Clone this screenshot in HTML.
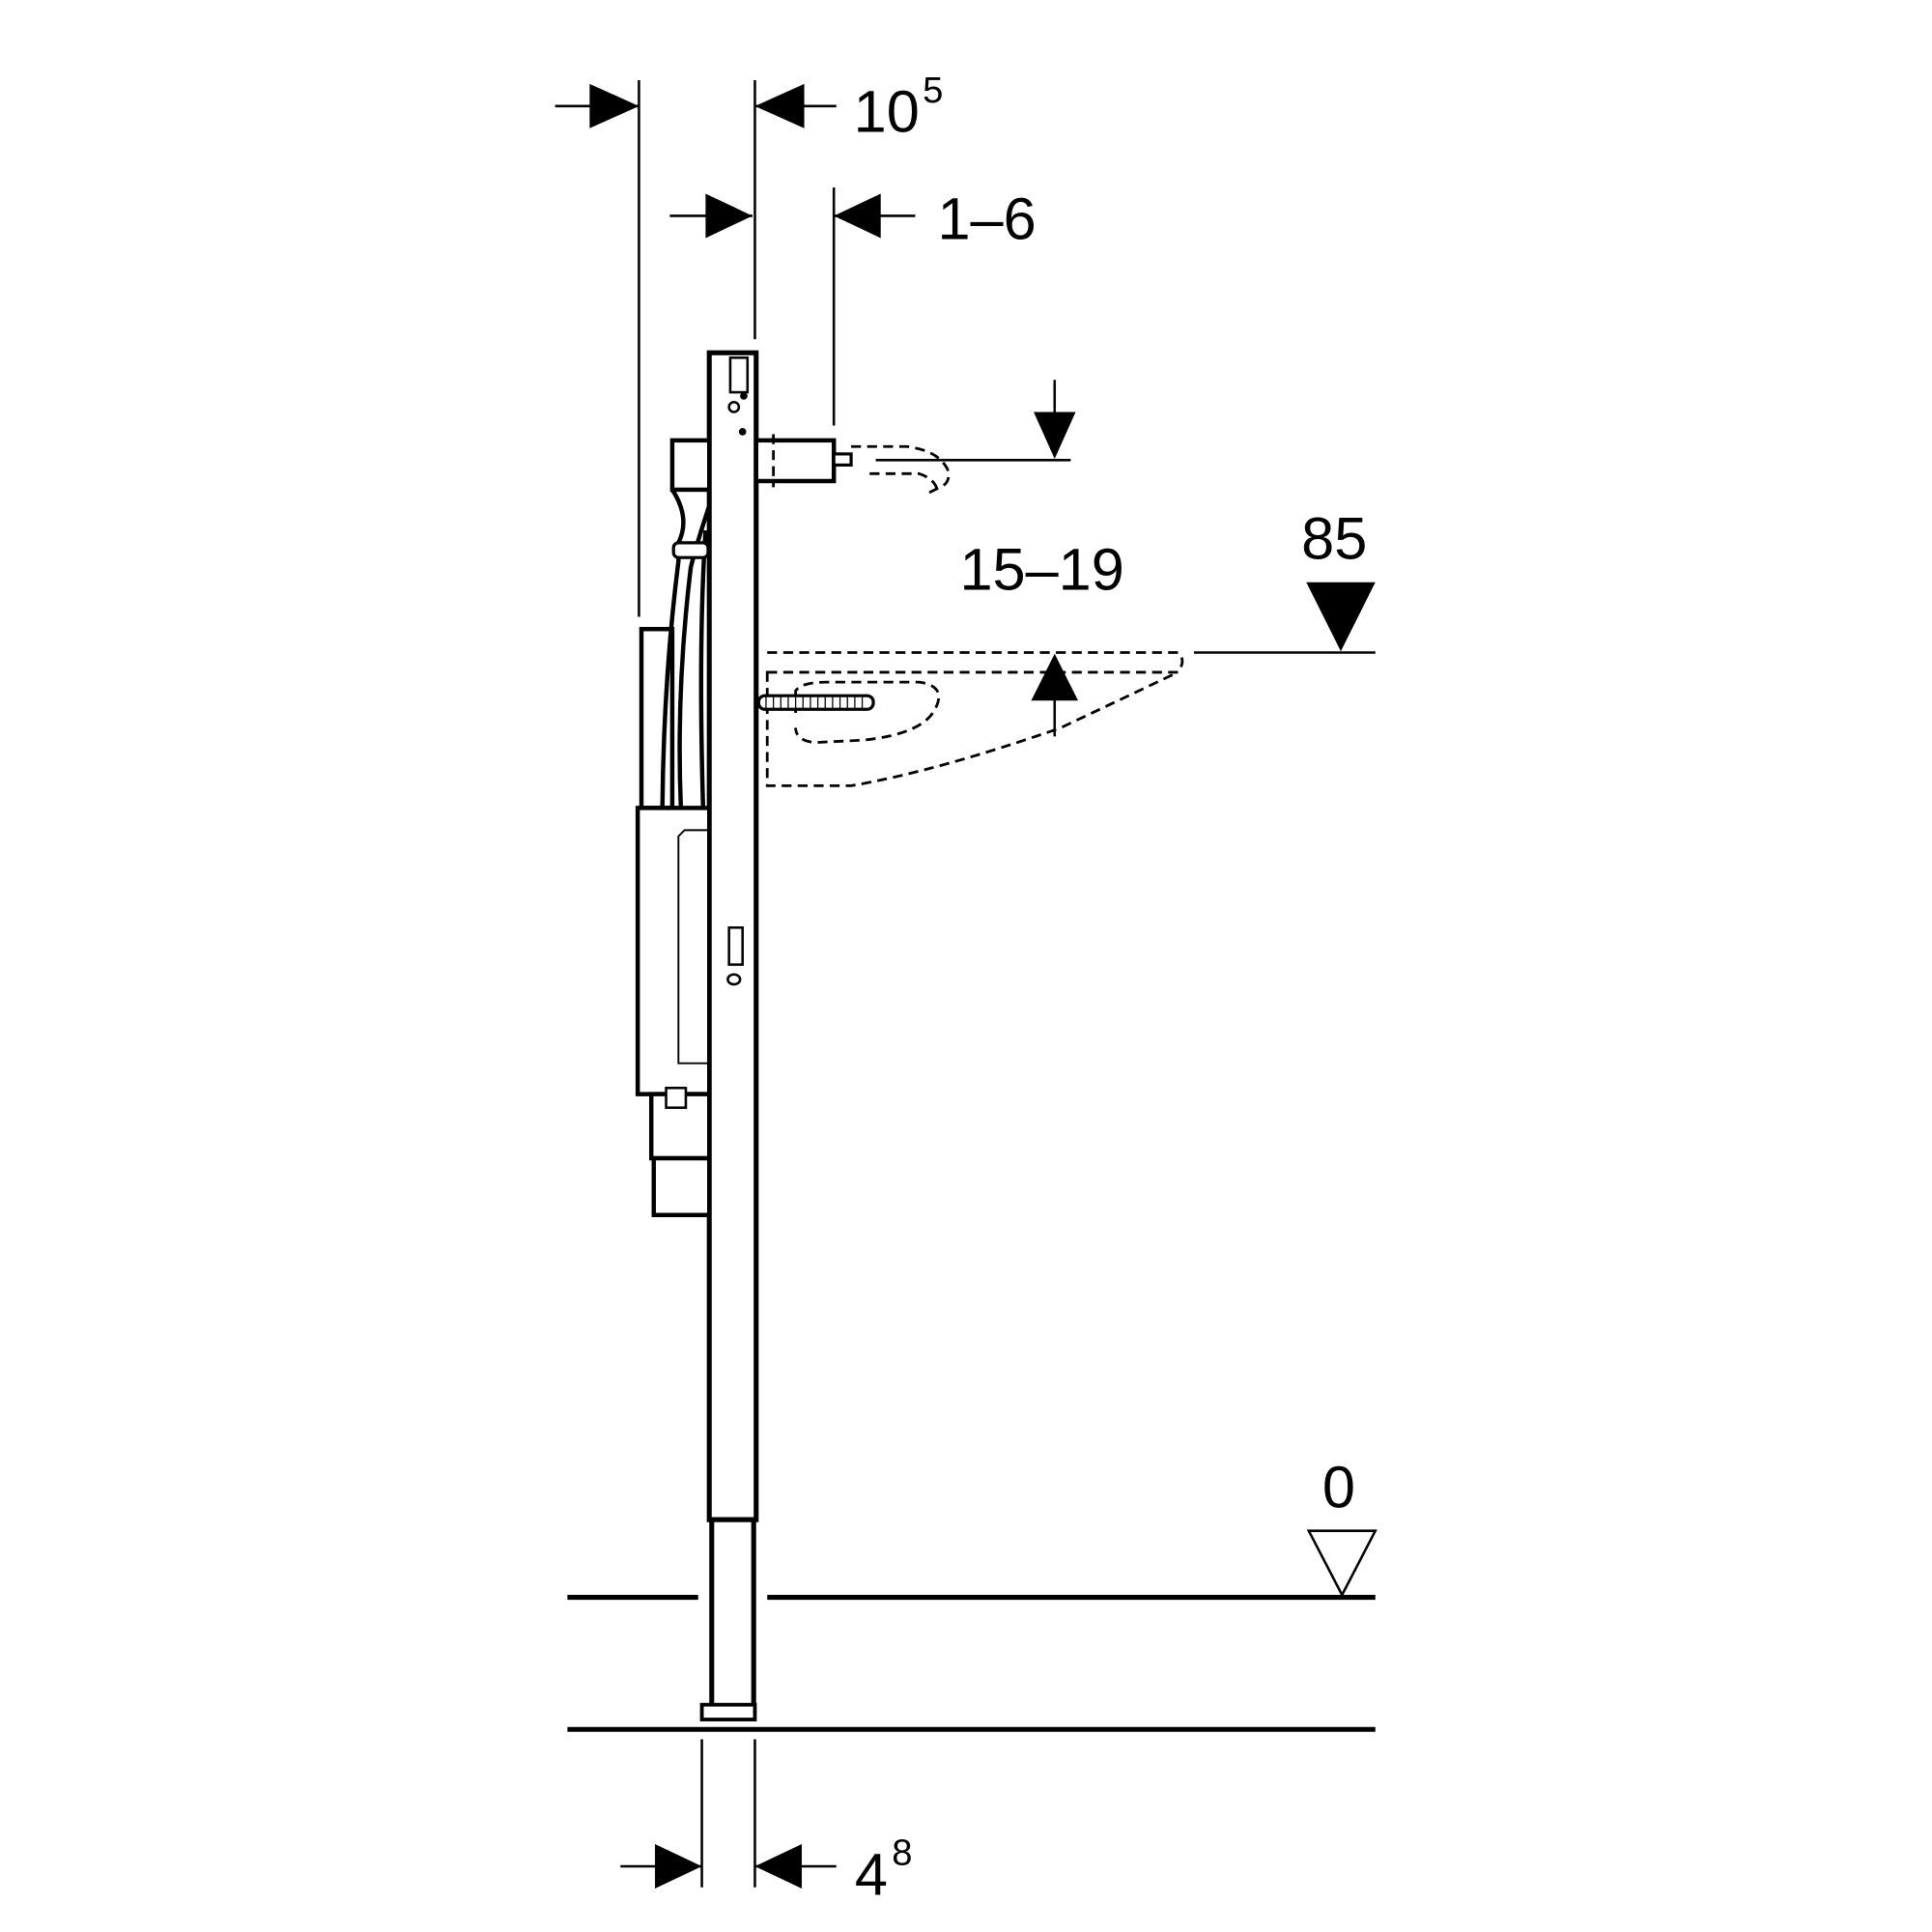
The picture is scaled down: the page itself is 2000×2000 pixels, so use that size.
<!DOCTYPE html>
<html><head><meta charset="utf-8"><style>
html,body{margin:0;padding:0;background:#fff;width:2000px;height:2000px;overflow:hidden}
svg{display:block}
text{font-family:"Liberation Sans",Arial,sans-serif;fill:#000}
</style></head><body>
<svg width="2000" height="2000" viewBox="0 0 1560 1560" xmlns="http://www.w3.org/2000/svg">
<g transform="scale(0.996)">
<g stroke="#000" fill="none" stroke-width="2">
<line x1="518" y1="65" x2="518" y2="500"/>
<line x1="612" y1="65" x2="612" y2="275"/>
<line x1="450" y1="86" x2="518" y2="86"/>
<line x1="612" y1="86" x2="678" y2="86"/>
<line x1="543" y1="175" x2="610" y2="175"/>
<line x1="676" y1="152" x2="676" y2="345"/>
<line x1="676" y1="175" x2="742" y2="175"/>
<line x1="855" y1="308" x2="855" y2="345"/>
<line x1="710" y1="373" x2="868" y2="373"/>
<line x1="855" y1="560" x2="855" y2="597"/>
<line x1="968" y1="529" x2="1115" y2="529"/>
<line x1="569" y1="1410" x2="569" y2="1530"/>
<line x1="612" y1="1410" x2="612" y2="1530"/>
<line x1="503" y1="1513" x2="569" y2="1513"/>
<line x1="612" y1="1513" x2="678" y2="1513"/>
</g>
<g fill="#000">
<polygon points="478,68 518,86 478,104"/>
<polygon points="652,68 612,86 652,104"/>
<polygon points="572,157 610,175 572,193"/>
<polygon points="714,157 676,175 714,193"/>
<polygon points="838,334 872,334 855,372"/>
<polygon points="836,568 874,568 855,530"/>
<polygon points="1059,472 1115,472 1087,528"/>
<polygon points="531,1495 569,1513 531,1531"/>
<polygon points="650,1495 612,1513 650,1531"/>
</g>
<g stroke="#000" stroke-width="4" fill="none">
<line x1="460" y1="1295" x2="566" y2="1295"/>
<line x1="622" y1="1295" x2="1115" y2="1295"/>
<line x1="460" y1="1402" x2="1115" y2="1402"/>
</g>
<polygon points="1061,1241 1115,1241 1088,1293" fill="none" stroke="#000" stroke-width="2"/>
<g stroke="#000" stroke-width="4" fill="#fff">
<rect x="575" y="286" width="38" height="946"/>
<rect x="577" y="1232" width="34" height="158"/>
<rect x="569" y="1382" width="43" height="12" stroke-width="3"/>
</g>
<g stroke="#000" stroke-width="2" fill="none">
<rect x="592" y="290" width="14" height="28"/>
<circle cx="595" cy="330" r="4"/>
<rect x="591" y="752" width="11" height="30"/>
<ellipse cx="595" cy="794" rx="5" ry="4"/>
</g>
<g fill="#000"><circle cx="603" cy="321" r="3"/><circle cx="602" cy="350" r="3"/><circle cx="562" cy="745" r="3.5"/><circle cx="562" cy="810" r="3.5"/></g>
<g stroke="#000" stroke-width="3.5" fill="#fff">
<rect x="613" y="357" width="63" height="33"/>
<rect x="676" y="368" width="14" height="9" stroke-width="2.5"/>
<rect x="545" y="357" width="30" height="40"/>
</g>
<g stroke="#000" stroke-width="2.2" fill="none" stroke-dasharray="8,5">
<path d="M627,352 L627,395"/>
<path d="M690,362 L735,362 Q760,365 768,380 Q772,392 760,396 L752,400"/>
<path d="M705,384 L745,384 Q758,388 760,398"/>
<path d="M622,529 L955,529 Q962,535 955,545"/>
<path d="M622,545 L955,545 L860,590 Q760,625 690,637 L622,637 Z"/>
<path d="M645,578 L645,560 Q650,553 670,553 L745,553 Q768,556 758,575 Q748,595 700,600 L660,602 Q645,600 645,590"/>
</g>
<rect x="615" y="564" width="93" height="11" rx="5" fill="#fff" stroke="#000" stroke-width="2.5"/>
<g stroke="#000" stroke-width="1">
<path d="M621,565v9M627,565v9M633,565v9M639,565v9M645,565v9M651,565v9M657,565v9M663,565v9M669,565v9M675,565v9M681,565v9M687,565v9M693,565v9M699,565v9"/>
</g>
<g stroke="#000" stroke-width="3.5" fill="#fff">
<rect x="520" y="510" width="25" height="145"/>
<path d="M545,397 Q560,420 550,440 L550,455 Q538,550 537,655" fill="none"/>
<path d="M575,410 Q565,440 560,460 Q548,560 552,655" fill="none"/>
<path d="M572,430 Q566,520 570,655" fill="none"/>
<rect x="546" y="440" width="28" height="12" rx="4" stroke-width="2.5"/>
<rect x="517" y="655" width="58" height="232"/>
<rect x="528" y="887" width="47" height="52"/>
<rect x="530" y="939" width="45" height="46"/>
<rect x="540" y="882" width="16" height="16" stroke-width="2"/>
</g>
<path d="M575,673 L555,673 L550,678 L550,862 L575,862" fill="none" stroke="#000" stroke-width="1.5"/>
<text x="692" y="107" font-size="48">10</text>
<text x="748" y="83" font-size="30">5</text>
<text x="760" y="194" font-size="48">1–6</text>
<text x="778" y="478" font-size="48">15–19</text>
<text x="1055" y="453" font-size="48">85</text>
<text x="1072" y="1222" font-size="48">0</text>
<text x="693" y="1536" font-size="48">4</text>
<text x="723" y="1512" font-size="30">8</text>
</g>
</svg>
</body></html>
